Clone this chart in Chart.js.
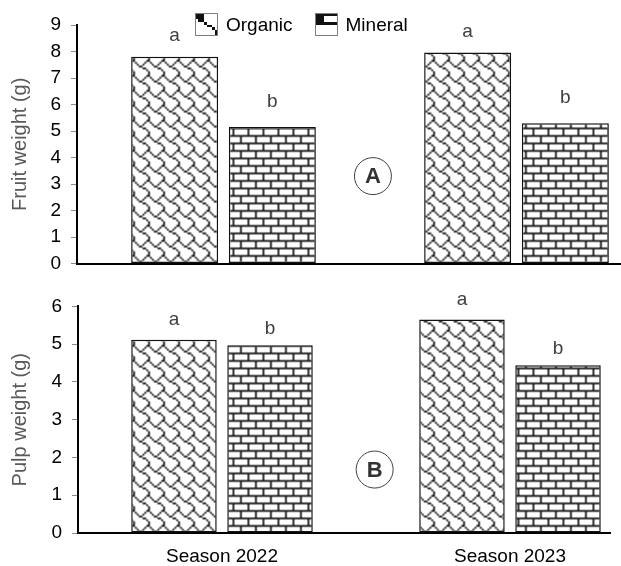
<!DOCTYPE html>
<html>
<head>
<title>Fruit and pulp weight</title>
<script src="https://cdn.jsdelivr.net/npm/chart.js"></script>
<style>
  body { margin: 0; width: 621px; height: 566px; overflow: hidden; background: #fff; position: relative;
         font-family: 'Liberation Sans', Arial, sans-serif; }
  #topBox { position: absolute; left: 0; top: 0; width: 621px; height: 285px; overflow: hidden; }
  #bottomBox { position: absolute; left: 0; top: 285px; width: 611px; height: 281px; overflow: hidden; }
  #legend { position: absolute; left: 195px; top: 13px; display: flex; gap: 22px; z-index: 2; }
  .item { display: flex; align-items: center; height: 23px; font-size: 19px; color: #000; }
  .item canvas { margin-right: 8px; }
</style>
</head>
<body>
  <div id="topBox"><canvas id="fruitChart" width="663" height="285"></canvas></div>
  <div id="bottomBox"><canvas id="pulpChart" width="654" height="290"></canvas></div>
  <div id="legend"></div>

<script>
// data
const seasons = ['Season 2022', 'Season 2023'];
const seriesNames = ['Organic', 'Mineral'];
const fruitOrganic = [7.8, 7.96];
const fruitMineral = [5.15, 5.29];
const pulpOrganic = [5.12, 5.65];
const pulpMineral = [4.97, 4.44];
const fruitLetters = [['a', 'a'], ['b', 'b']];
const pulpLetters = [['a', 'a'], ['b', 'b']];
const fruitMax = 9;
const pulpMax = 6;

// 8x8 fill patterns (shingle / horizontal brick)
const shingleBits = [0x03, 0x84, 0x48, 0x30, 0x0c, 0x02, 0x01, 0x01];
const brickBits = [0xff, 0x80, 0x80, 0x80, 0xff, 0x08, 0x08, 0x08];
const organicIcon = [0xe0, 0xe0, 0x60, 0x10, 0x0c, 0x02, 0x01, 0x01];
const mineralIcon = [0xff, 0xe0, 0xe0, 0xff, 0x00, 0x00, 0x00, 0x00];

const FONT = "'Liberation Sans', Arial, sans-serif";
Chart.defaults.font.family = FONT;

function bitCanvas(bits, reps, ink) {
  const c = document.createElement('canvas');
  c.width = c.height = 8 * reps;
  const g = c.getContext('2d');
  g.fillStyle = '#fff';
  g.fillRect(0, 0, c.width, c.height);
  g.fillStyle = ink;
  for (let ty = 0; ty < reps; ty++)
    for (let tx = 0; tx < reps; tx++)
      for (let r = 0; r < 8; r++)
        for (let col = 0; col < 8; col++)
          if (bits[r] & (0x80 >> col)) g.fillRect(tx * 8 + col, ty * 8 + r, 1, 1);
  return c;
}

// upscaled + softened tile, like the blurry bitmap fill of the original
function makePattern(bits, size) {
  const src = bitCanvas(bits, 3, '#222');
  const big = document.createElement('canvas');
  big.width = big.height = size * 3;
  const b = big.getContext('2d');
  b.fillStyle = '#fff';
  b.fillRect(0, 0, big.width, big.height);
  b.imageSmoothingEnabled = true;
  b.imageSmoothingQuality = 'high';
  b.filter = 'blur(0.6px)';
  b.drawImage(src, 0, 0, big.width, big.height);
  const tile = document.createElement('canvas');
  tile.width = tile.height = size;
  tile.getContext('2d').drawImage(big, size, size, size, size, 0, 0, size, size);
  return tile.getContext('2d').createPattern(tile, 'repeat');
}

const organicFill = makePattern(shingleBits, 15);
const mineralFill = makePattern(brickBits, 15);

// legend (html)
const legend = document.getElementById('legend');
[organicIcon, mineralIcon].forEach((bits, i) => {
  const item = document.createElement('div');
  item.className = 'item';
  const icon = document.createElement('canvas');
  icon.width = icon.height = 23;
  const g = icon.getContext('2d');
  g.imageSmoothingEnabled = false;
  g.drawImage(bitCanvas(bits, 1, '#111'), 0, 0, 23, 23);
  g.strokeStyle = '#7f7f7f';
  g.lineWidth = 1;
  g.strokeRect(0.5, 0.5, 22, 22);
  item.appendChild(icon);
  const span = document.createElement('span');
  span.textContent = seriesNames[i];
  item.appendChild(span);
  legend.appendChild(item);
});

// letters above bars + panel tag
const lettersPlugin = {
  id: 'letters',
  afterDatasetsDraw(chart, args, opts) {
    const ctx = chart.ctx;
    ctx.save();
    ctx.font = '19px ' + FONT;
    ctx.fillStyle = '#404040';
    ctx.textAlign = 'center';
    ctx.textBaseline = 'alphabetic';
    chart.data.datasets.forEach((ds, i) => {
      chart.getDatasetMeta(i).data.forEach((bar, j) => {
        ctx.fillText(ds.letters[j], bar.x, bar.y - opts.gaps[i]);
      });
    });
    const x = chart.scales.x.getPixelForValue(opts.tag.x);
    const y = chart.scales.y.getPixelForValue(opts.tag.y);
    ctx.beginPath();
    ctx.arc(x, y, 18.5, 0, Math.PI * 2);
    ctx.strokeStyle = '#404040';
    ctx.lineWidth = 1;
    ctx.stroke();
    ctx.font = 'bold 22px ' + FONT;
    ctx.textBaseline = 'middle';
    ctx.fillStyle = '#333';
    ctx.fillText(opts.tag.text, x, y + 1);
    ctx.restore();
  }
};

function barSet(label, data, letters, fill) {
  return {
    label: label,
    data: data,
    letters: letters,
    backgroundColor: fill,
    borderColor: '#111',
    borderWidth: 1.5,
    borderSkipped: false,
    categoryPercentage: 0.667,
    barPercentage: 0.89
  };
}

function makeChart(id, cfg) {
  return new Chart(document.getElementById(id), {
    type: 'bar',
    data: {
      labels: seasons,
      datasets: [
        barSet(seriesNames[0], cfg.organic, cfg.letters[0], organicFill),
        barSet(seriesNames[1], cfg.mineral, cfg.letters[1], mineralFill)
      ]
    },
    plugins: [lettersPlugin],
    options: {
      responsive: false,
      animation: false,
      layout: { padding: cfg.padding },
      plugins: {
        legend: { display: false },
        tooltip: { enabled: false },
        letters: { gaps: cfg.gaps, tag: cfg.tag }
      },
      scales: {
        x: {
          ticks: { display: cfg.showSeason, color: '#000', font: { size: 19 }, padding: 4 },
          grid: { display: false },
          border: { display: true, color: '#000', width: 2 },
          afterFit(s) { s.height = cfg.xHeight; }
        },
        y: {
          min: 0,
          max: cfg.max,
          ticks: { stepSize: 1, color: '#000', font: { size: 19 }, padding: 10 },
          grid: { display: true, drawOnChartArea: false, drawTicks: true, tickLength: 6, color: '#8c8c8c' },
          border: { display: true, color: '#000', width: 2 },
          title: { display: true, text: cfg.title, color: '#595959', font: { size: 20 }, padding: { top: 8, bottom: 0 } },
          afterFit(s) { s.width = cfg.yWidth; }
        }
      }
    }
  });
}

makeChart('fruitChart', {
  organic: fruitOrganic, mineral: fruitMineral, letters: fruitLetters,
  max: fruitMax, title: 'Fruit weight (g)', showSeason: false,
  padding: { top: 25, right: 0, bottom: 20, left: 0 }, xHeight: 0, yWidth: 77,
  gaps: [16, 20.5], tag: { x: 0.51, y: 3.3, text: 'A' }
});

makeChart('pulpChart', {
  organic: pulpOrganic, mineral: pulpMineral, letters: pulpLetters,
  max: pulpMax, title: 'Pulp weight (g)', showSeason: true,
  padding: { top: 21, right: 0, bottom: 6, left: 0 }, xHeight: 36, yWidth: 78,
  gaps: [15, 11], tag: { x: 0.53, y: 1.68, text: 'B' }
});
</script>
</body>
</html>
